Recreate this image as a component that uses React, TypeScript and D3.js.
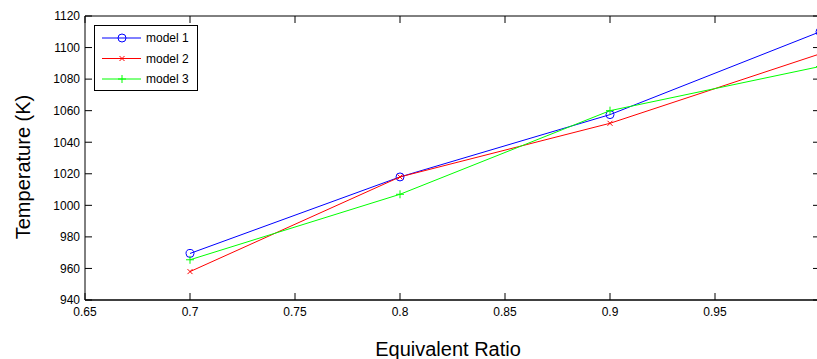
import React from "react";
import * as d3 from "d3";

const xValues = [0.7, 0.8, 0.9, 1.0];
const model1 = [969.5, 1018, 1057.5, 1110];
const model2 = [958, 1018, 1052, 1096];
const model3 = [965.5, 1007, 1060, 1088];
const seriesNames = ["model 1", "model 2", "model 3"];
const seriesColors = ["#0000ff", "#ff0000", "#00ff00"];
const xTicks = [0.65, 0.7, 0.75, 0.8, 0.85, 0.9, 0.95];
const yTicks = [940, 960, 980, 1000, 1020, 1040, 1060, 1080, 1100, 1120];

const W = 817;
const H = 359;
const left = 85;
const right = 820;
const top = 16;
const bottom = 300;
const font = "Arial, 'Liberation Sans', Helvetica, sans-serif";

function Marker({ kind, x, y, color }: { kind: number; x: number; y: number; color: string }) {
  if (kind === 0) return <circle cx={x} cy={y} r={4} fill="none" stroke={color} strokeWidth={1} />;
  if (kind === 1)
    return (
      <path
        d={`M${x - 2.5},${y - 2.5}L${x + 2.5},${y + 2.5}M${x - 2.5},${y + 2.5}L${x + 2.5},${y - 2.5}`}
        stroke={color}
        strokeWidth={1}
      />
    );
  return <path d={`M${x - 4},${y}L${x + 4},${y}M${x},${y - 4}L${x},${y + 4}`} stroke={color} strokeWidth={1} />;
}

export default function App() {
  const x = d3.scaleLinear().domain([0.65, 1.0]).range([left, right]);
  const y = d3.scaleLinear().domain([940, 1120]).range([bottom, top]);
  const series = [model1, model2, model3];
  const line = d3
    .line<number>()
    .x((_, i) => x(xValues[i]))
    .y((d) => y(d));
  const tl = 7;

  return (
    <svg width={W} height={H} style={{ position: "absolute", left: 0, top: 0, background: "#fff" }} fontFamily={font}>
      <rect x={0} y={0} width={W} height={H} fill="#fff" />
      {/* series */}
      {series.map((s, k) => (
        <g key={k}>
          <path d={line(s) || ""} fill="none" stroke={seriesColors[k]} strokeWidth={1} />
          {s.map((v, i) => (
            <Marker key={i} kind={k} x={x(xValues[i])} y={y(v)} color={seriesColors[k]} />
          ))}
        </g>
      ))}
      {/* axes box */}
      <line x1={left} x2={right} y1={bottom} y2={bottom} stroke="#000" strokeWidth={1.3} />
      <line x1={left} x2={right} y1={top} y2={top} stroke="#000" strokeWidth={1} />
      <line x1={left} x2={left} y1={top} y2={bottom} stroke="#000" strokeWidth={1} />
      <line x1={right} x2={right} y1={top} y2={bottom} stroke="#000" strokeWidth={1} />
      {/* x ticks */}
      {xTicks.map((t) => (
        <g key={t}>
          <line x1={x(t)} x2={x(t)} y1={bottom} y2={bottom - tl} stroke="#000" strokeWidth={1} />
          <line x1={x(t)} x2={x(t)} y1={top} y2={top + tl} stroke="#000" strokeWidth={1} />
          <text x={x(t)} y={316} fontSize={12} textAnchor="middle" fill="#000">
            {String(t)}
          </text>
        </g>
      ))}
      {/* y ticks */}
      {yTicks.map((t) => (
        <g key={t}>
          <line x1={left} x2={left + tl} y1={y(t)} y2={y(t)} stroke="#000" strokeWidth={1} />
          <line x1={right} x2={right - tl} y1={y(t)} y2={y(t)} stroke="#000" strokeWidth={1} />
          <text x={80} y={y(t) + 4.3} fontSize={12} textAnchor="end" fill="#000">
            {String(t)}
          </text>
        </g>
      ))}
      {/* axis labels */}
      <text x={448} y={356} fontSize={20} textAnchor="middle" fill="#000">
        Equivalent Ratio
      </text>
      <text transform="translate(30,167) rotate(-90)" fontSize={20} textAnchor="middle" fill="#000">
        Temperature (K)
      </text>
      {/* legend */}
      <rect x={94.5} y={25.5} width={103} height={65} fill="#fff" stroke="#000" strokeWidth={1} />
      {seriesNames.map((n, k) => {
        const ly = 38 + k * 20.5;
        return (
          <g key={n}>
            <line x1={102} x2={141} y1={ly} y2={ly} stroke={seriesColors[k]} strokeWidth={1} />
            <Marker kind={k} x={122} y={ly} color={seriesColors[k]} />
            <text x={146} y={ly + 4.3} fontSize={12} fill="#000">
              {n}
            </text>
          </g>
        );
      })}
    </svg>
  );
}
